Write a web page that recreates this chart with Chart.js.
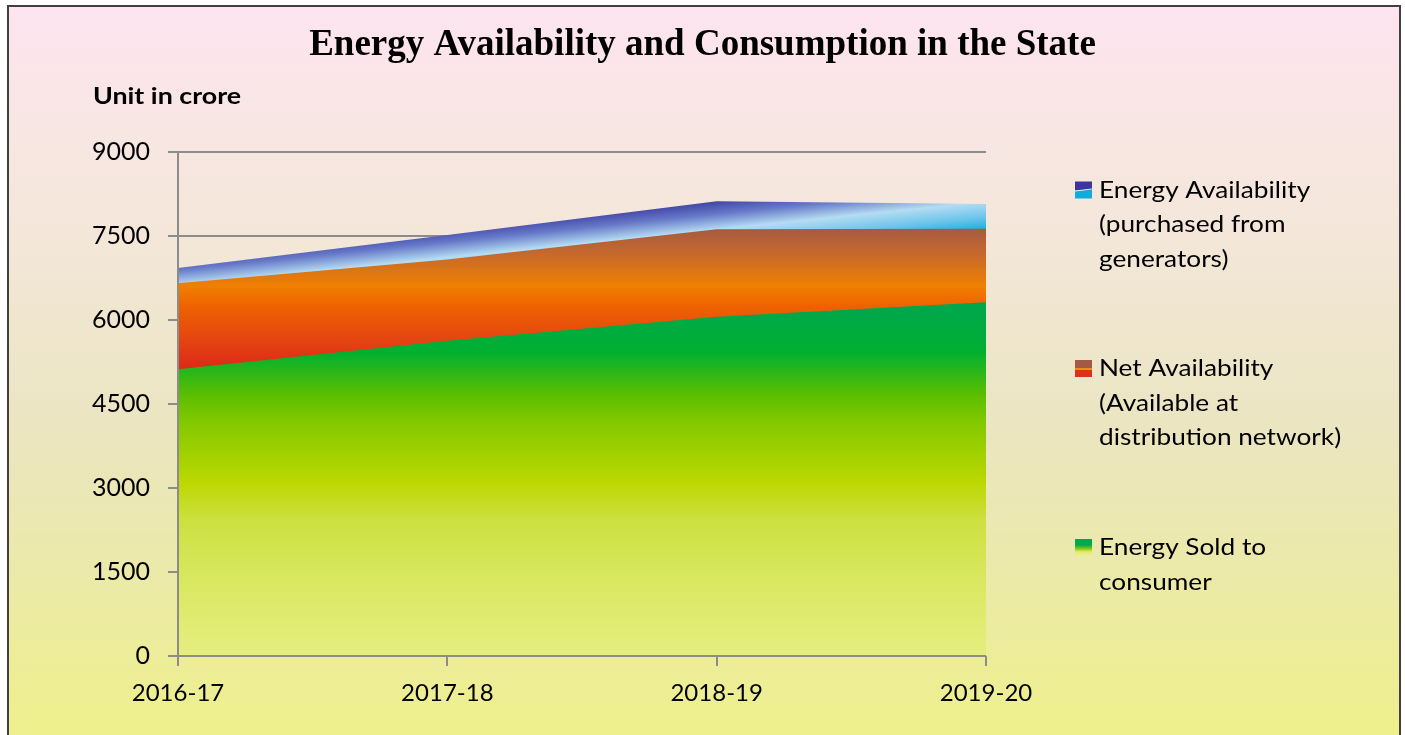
<!DOCTYPE html>
<html><head><meta charset="utf-8">
<script src="https://cdn.jsdelivr.net/npm/chart.js@4.4.1/dist/chart.umd.min.js"></script>
<style>html,body{margin:0;padding:0;background:#fff;overflow:hidden}#wrap{position:absolute;left:0;top:0;width:1405px;height:735px}</style>
</head><body><div id="wrap"><canvas id="c" width="1405" height="735"></canvas></div>
<script>
// ---- data ----
const categories = ['2016-17', '2017-18', '2018-19', '2019-20'];
const energyAvailability = [6930, 7520, 8120, 8070];
const netAvailability = [6655, 7080, 7620, 7630];
const energySold = [5120, 5630, 6060, 6315];
const yTicks = [0, 1500, 3000, 4500, 6000, 7500, 9000];
const seriesLabels = [
  ['Energy Availability', '(purchased from', 'generators)'],
  ['Net Availability', '(Available at', 'distribution network)'],
  ['Energy Sold to', 'consumer']
];
const titleText = 'Energy Availability and Consumption in the State';
const unitText = 'Unit in crore';

const AXIS = '#8c8c8c';
const FONT = 'Lato';

function blueGrad(chart) {
  const {ctx, chartArea, scales} = chart;
  if (!chartArea) return '#5060c0';
  const x = scales.x, y = scales.y;
  const x0 = x.getPixelForValue(2), y0 = y.getPixelForValue(8175);
  const dy = y.getPixelForValue(7070) - y0;
  const dx = dy * 0.104;
  const g = ctx.createLinearGradient(x0, y0, x0 + dx, y0 + dy);
  g.addColorStop(0, '#3a3a9e');
  g.addColorStop(0.25, '#6678c8');
  g.addColorStop(0.5, '#b4dcf2');
  g.addColorStop(0.75, '#6cc4ea');
  g.addColorStop(1, '#00aadc');
  return g;
}
function vGrad(chart, top, bottom, stops) {
  const {ctx, chartArea, scales} = chart;
  if (!chartArea) return stops[0][1];
  const y = scales.y;
  const g = ctx.createLinearGradient(0, y.getPixelForValue(top), 0, y.getPixelForValue(bottom));
  stops.forEach(s => g.addColorStop(s[0], s[1]));
  return g;
}
const netStops = [[0, '#a65a42'], [0.176, '#c4682e'], [0.41, '#f08000'], [0.55, '#ee6200'], [0.76, '#e64810'], [1, '#dc2818']];
const soldStops = [[0, '#00a650'], [0.142, '#00b030'], [0.264, '#5cbe00'], [0.335, '#80c800'], [0.509, '#bcd800'], [0.616, '#cce040'], [0.785, '#d8e860'], [1, '#e6ee80']];

function stretchText(ctx, text, x, y, sx) {
  ctx.save();
  ctx.translate(x, y);
  ctx.scale(sx, 1);
  ctx.fillText(text, 0, 0);
  ctx.restore();
}

const decor = {
  id: 'decor',
  beforeDraw(chart) {
    const {ctx, width, height} = chart;
    ctx.save();
    ctx.fillStyle = '#ffffff';
    ctx.fillRect(0, 0, width, height);
    const g = ctx.createLinearGradient(0, 7, 0, height);
    g.addColorStop(0, '#fde4f0');
    g.addColorStop(0.15, '#f8e6e4');
    g.addColorStop(0.33, '#f3e7d8');
    g.addColorStop(0.57, '#ebe5c2');
    g.addColorStop(0.76, '#ebe9ab');
    g.addColorStop(1, '#eef08c');
    ctx.fillStyle = g;
    ctx.fillRect(8, 6, 1392, height);
    ctx.strokeStyle = '#404040';
    ctx.lineWidth = 2;
    ctx.strokeRect(8, 6, 1392, height + 20);
    // unit label
    ctx.fillStyle = '#000';
    ctx.font = 'bold 23px ' + FONT;
    ctx.textBaseline = 'middle';
    ctx.textAlign = 'left';
    stretchText(ctx, unitText, 93, 97, 1.165);
    ctx.restore();
  },
  afterDatasetsDraw(chart) {
    const {ctx, chartArea} = chart;
    ctx.save();
    ctx.strokeStyle = AXIS;
    ctx.lineWidth = 2;
    ctx.beginPath();
    ctx.moveTo(chartArea.left, chartArea.top);
    ctx.lineTo(chartArea.left, chartArea.bottom);
    ctx.lineTo(chartArea.right, chartArea.bottom);
    ctx.stroke();
    ctx.restore();
  },
  afterDraw(chart) {
    const {ctx} = chart;
    ctx.save();
    const lx = 1075, tx = 1099, lh = 34.5;
    const starts = [190.5, 369, 548];
    ctx.font = '23px ' + FONT;
    ctx.fillStyle = '#000';
    ctx.textBaseline = 'middle';
    ctx.textAlign = 'left';
    seriesLabels.forEach((lines, i) => {
      const y0 = starts[i];
      const sy = y0 - 9, s = 17;
      if (i === 0) {
        ctx.fillStyle = '#3c34a0'; ctx.fillRect(lx, sy, s, s / 2);
        ctx.fillStyle = '#10acdc'; ctx.fillRect(lx, sy + s / 2, s, s / 2);
        ctx.strokeStyle = '#e0f0ff'; ctx.lineWidth = 1;
        ctx.beginPath(); ctx.moveTo(lx, sy + s / 2 + 1); ctx.lineTo(lx + s, sy + s / 2 - 1); ctx.stroke();
      } else if (i === 1) {
        ctx.fillStyle = '#a35a45'; ctx.fillRect(lx, sy, s, 8);
        ctx.fillStyle = '#e8901c'; ctx.fillRect(lx, sy + 8, s, 2);
        ctx.fillStyle = '#e0301c'; ctx.fillRect(lx, sy + 10, s, s - 10);
      } else {
        const g = ctx.createLinearGradient(0, sy, 0, sy + s);
        g.addColorStop(0, '#00a850'); g.addColorStop(0.35, '#00a850'); g.addColorStop(0.55, '#80c010'); g.addColorStop(0.75, '#e0ea70'); g.addColorStop(1, '#eef090');
        ctx.fillStyle = g; ctx.fillRect(lx, sy, s, s);
      }
      ctx.fillStyle = '#000';
      lines.forEach((t, k) => stretchText(ctx, t, tx, y0 + k * lh, 1.14));
    });
    ctx.restore();
  }
};

new Chart(document.getElementById('c'), {
  type: 'line',
  data: {
    labels: categories,
    datasets: [
      {label: seriesLabels[0].join(' '), data: energyAvailability, order: 3, fill: 'origin',
       backgroundColor: c => blueGrad(c.chart), borderWidth: 0, pointRadius: 0, tension: 0},
      {label: seriesLabels[1].join(' '), data: netAvailability, order: 2, fill: 'origin',
       backgroundColor: c => vGrad(c.chart, 7650, 5100, netStops), borderWidth: 0, pointRadius: 0, tension: 0},
      {label: seriesLabels[2].join(' '), data: energySold, order: 1, fill: 'origin',
       backgroundColor: c => vGrad(c.chart, 6330, 0, soldStops), borderWidth: 0, pointRadius: 0, tension: 0}
    ]
  },
  options: {
    responsive: false,
    devicePixelRatio: 1,
    animation: false,
    layout: {padding: {left: 0, right: 0, top: 0, bottom: 0}},
    plugins: {
      legend: {display: false},
      tooltip: {enabled: false},
      title: {
        display: true, text: titleText, color: '#000',
        font: {family: 'Liberation Serif', size: 37, weight: 'bold', lineHeight: 1.2},
        padding: {top: 23, bottom: 84.6}
      }
    },
    scales: {
      x: {
        offset: false,
        grid: {display: true, drawOnChartArea: false, drawTicks: true, tickLength: 10, color: AXIS, lineWidth: 2},
        border: {display: false},
        ticks: {color: '#000', font: {family: FONT, size: 24}, padding: 13, maxRotation: 0, autoSkip: false},
        afterFit: s => { s.height = 79; }
      },
      y: {
        min: 0, max: 9000,
        afterBuildTicks: s => { s.ticks = yTicks.map(v => ({value: v})); },
        grid: {color: AXIS, lineWidth: 2, tickLength: 10, drawTicks: true},
        border: {display: false},
        ticks: {color: '#000', font: {family: FONT, size: 25}, padding: 18, callback: v => String(v)},
        afterFit: s => { s.width = 178; }
      },
      yr: {
        position: 'right', display: true,
        grid: {display: false}, border: {display: false}, ticks: {display: false},
        afterFit: s => { s.width = 419; }
      }
    }
  },
  plugins: [decor]
});
</script>
</body></html>
